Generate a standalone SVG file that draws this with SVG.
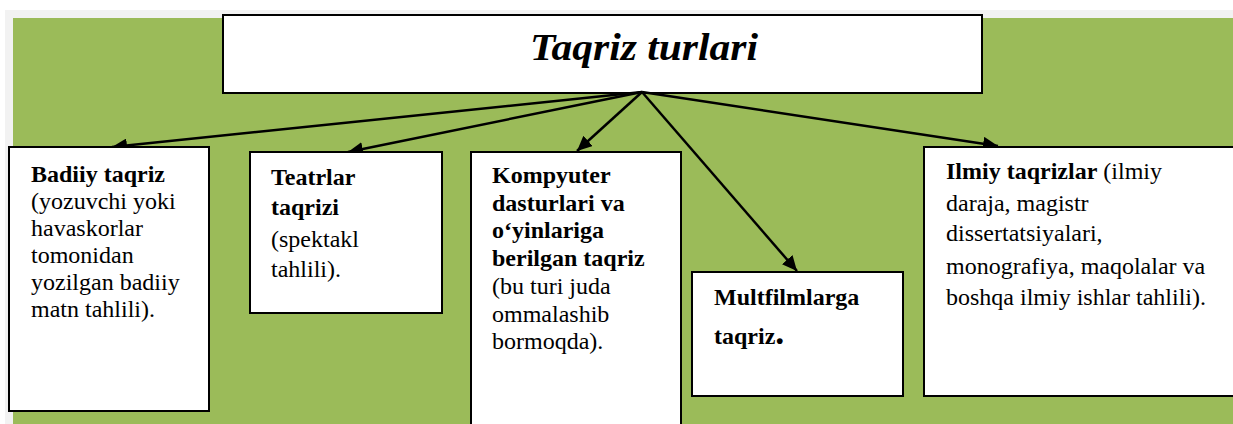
<svg xmlns="http://www.w3.org/2000/svg" width="1233" height="424" viewBox="0 0 1233 424">
<defs>
<marker id="ah" markerUnits="userSpaceOnUse" markerWidth="16" markerHeight="14" refX="15" refY="7" orient="auto">
<path d="M0,0 L15,7 L0,14 z" fill="#000"/>
</marker>
<style>
.box{fill:#fff;stroke:#000;stroke-width:2}
.t{font-family:"Liberation Serif","Times New Roman",serif;font-size:24px;fill:#000}
.b{font-weight:bold}
.con{stroke:#000;stroke-width:2.5;fill:none;marker-end:url(#ah)}
</style>
</defs>
<rect x="0" y="0" width="1233" height="424" fill="#fff"/>
<rect x="5" y="10" width="1228" height="414" fill="#f2f2f2"/>
<rect x="13" y="18" width="1220" height="406" fill="#9bbb59"/>

<g id="title">
<rect class="box" x="223" y="15" width="759" height="78"/>
<text x="644" y="60" text-anchor="middle" font-family="'Liberation Serif',serif" font-style="italic" font-weight="bold" font-size="38" textLength="228" lengthAdjust="spacingAndGlyphs">Taqriz turlari</text>
</g>

<g id="connectors">
<line class="con" x1="642" y1="92" x2="112" y2="147"/>
<line class="con" x1="642" y1="92" x2="348" y2="152"/>
<line class="con" x1="642" y1="92" x2="577" y2="151"/>
<line class="con" x1="642" y1="92" x2="797" y2="271"/>
<line class="con" x1="642" y1="92" x2="998" y2="146"/>
</g>

<g id="badiiy">
<rect class="box" x="9" y="147" width="200" height="264"/>
<text class="t"><tspan class="b" x="31" y="182">Badiiy taqriz</tspan><tspan x="31" y="209">(yozuvchi yoki</tspan><tspan x="31" y="236">havaskorlar</tspan><tspan x="31" y="263">tomonidan</tspan><tspan x="31" y="290">yozilgan badiiy</tspan><tspan x="31" y="317">matn tahlili).</tspan></text>
</g>

<g id="teatrlar">
<rect class="box" x="250" y="152" width="192" height="161"/>
<text class="t"><tspan class="b" x="271" y="185">Teatrlar</tspan><tspan class="b" x="271" y="215">taqrizi</tspan><tspan x="271" y="247">(spektakl</tspan><tspan x="271" y="277">tahlili).</tspan></text>
</g>

<g id="kompyuter">
<rect class="box" x="471" y="152" width="210" height="290"/>
<text class="t"><tspan class="b" x="492" y="183">Kompyuter</tspan><tspan class="b" x="492" y="211">dasturlari va</tspan><tspan class="b" x="492" y="238">o‘yinlariga</tspan><tspan class="b" x="492" y="266">berilgan taqriz</tspan><tspan x="492" y="294">(bu turi juda</tspan><tspan x="492" y="322">ommalashib</tspan><tspan x="492" y="349">bormoqda).</tspan></text>
</g>

<g id="multfilm">
<rect class="box" x="692" y="272" width="211" height="124"/>
<text class="t b"><tspan x="714" y="305">Multfilmlarga</tspan><tspan x="714" y="344">taqriz<tspan font-size="36">.</tspan></tspan></text>
</g>

<g id="ilmiy">
<rect class="box" x="924" y="147" width="330" height="249"/>
<text class="t"><tspan x="946" y="179"><tspan class="b">Ilmiy taqrizlar</tspan> (ilmiy</tspan><tspan x="946" y="211">daraja, magistr</tspan><tspan x="946" y="241">dissertatsiyalari,</tspan><tspan x="946" y="274">monografiya, maqolalar va</tspan><tspan x="946" y="305">boshqa ilmiy ishlar tahlili).</tspan></text>
</g>
</svg>
